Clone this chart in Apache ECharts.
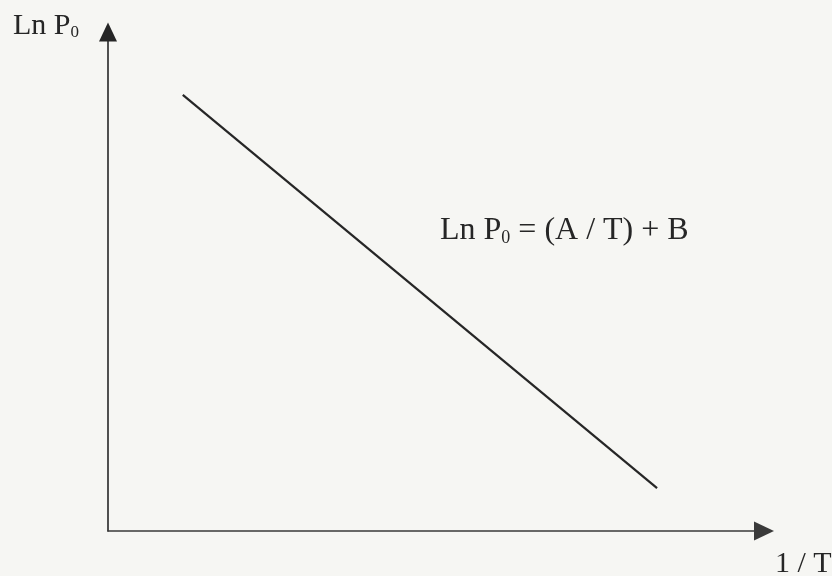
<!DOCTYPE html>
<html>
<head>
<meta charset="utf-8">
<script src="https://cdn.jsdelivr.net/npm/echarts@6/dist/echarts.min.js"></script>
<style>
  html, body { margin: 0; padding: 0; background: #f6f6f3; }
  #chart { width: 832px; height: 576px; }
</style>
</head>
<body>
<div id="chart"></div>
<script>
// Schematic Clausius-Clapeyron style plot: ln P0 falls linearly with 1/T.
const invT = [11.4, 83.7];          // 1/T (arbitrary units)
const lnP0 = [87.4, 8.6];           // ln P0 (arbitrary units)
const yAxisLabel = ['Ln P', '0'];
const xAxisLabel = '1 / T';
const equation = ['Ln P', '0', ' = (A / T) + B'];

const serif = '"Liberation Serif", "DejaVu Serif", serif';
const ink = '#262626';

const chart = echarts.init(document.getElementById('chart'), null, { renderer: 'canvas' });

const axisCommon = {
  type: 'value',
  min: 0,
  max: 100,
  splitLine: { show: false },
  axisTick: { show: false },
  axisLabel: { show: false }
};

chart.setOption({
  backgroundColor: '#f6f6f3',
  animation: false,
  grid: { left: 108, right: 68, top: 32, bottom: 45 },
  xAxis: Object.assign({}, axisCommon, {
    axisLine: {
      show: true,
      onZero: false,
      symbol: ['none', 'triangle'],
      symbolSize: [19, 20],
      lineStyle: { color: '#3a3a3a', width: 1.6 }
    }
  }),
  yAxis: Object.assign({}, axisCommon, {
    axisLine: {
      show: true,
      onZero: false,
      symbol: ['none', 'triangle'],
      symbolSize: [18, 19],
      lineStyle: { color: ink, width: 1.6 }
    }
  }),
  series: [{
    type: 'line',
    data: invT.map((x, i) => [x, lnP0[i]]),
    symbol: 'none',
    lineStyle: { color: ink, width: 2.2 }
  }],
  graphic: [
    {
      type: 'text',
      left: 13,
      top: 11,
      style: {
        text: '{m|' + yAxisLabel[0] + '}{s|' + yAxisLabel[1] + '}',
        rich: {
          m: { fontFamily: serif, fontSize: 30, fill: ink },
          s: { fontFamily: serif, fontSize: 17, fill: ink, verticalAlign: 'bottom' }
        }
      }
    },
    {
      type: 'text',
      left: 775,
      top: 549,
      style: { text: xAxisLabel, fontFamily: serif, fontSize: 30, fill: ink }
    },
    {
      type: 'text',
      left: 440,
      top: 215,
      style: {
        text: '{m|' + equation[0] + '}{s|' + equation[1] + '}{m|' + equation[2] + '}',
        rich: {
          m: { fontFamily: serif, fontSize: 32, fill: ink },
          s: { fontFamily: serif, fontSize: 18, fill: ink, verticalAlign: 'bottom' }
        }
      }
    }
  ]
});
</script>
</body>
</html>
